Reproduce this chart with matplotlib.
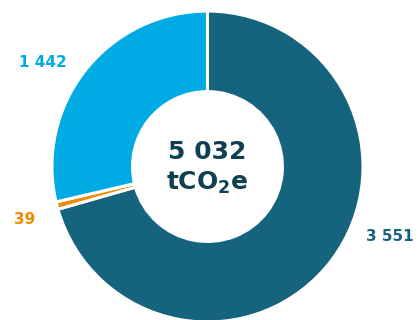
import matplotlib.pyplot as plt

plt.rcParams["mathtext.fontset"] = "dejavusans"

# emissions split, tCO2e (clockwise from 12 o'clock)
values = [3551, 39, 1442]
labels = ["3 551", "39", "1 442"]
colors = ["#16637d", "#f08a00", "#00abe3"]
total_label = ["5 032", r"tCO$_{\mathbf{2}}$e"]

fig = plt.figure(figsize=(4.19, 3.2), dpi=100)
ax = fig.add_axes([0, 0, 1, 1])
ax.pie(values, colors=colors, startangle=90, counterclock=False,
       radius=1.0, wedgeprops=dict(width=0.518, edgecolor="white", linewidth=2.2))

# hand placed value labels
label_pos = [(1.174, -0.447), (-1.174, -0.338), (-1.058, 0.666)]
for (x, y), txt, c in zip(label_pos, labels, colors):
    ax.text(x, y, txt, color=c, fontsize=11, fontweight="bold",
            ha="center", va="center")

ax.text(0, 0.093, total_label[0], color="#0e3f52", fontsize=18,
        fontweight="bold", ha="center", va="center")
ax.text(0, -0.106, total_label[1], color="#0e3f52", fontsize=18,
        fontweight="bold", ha="center", va="center")

ax.set_xlim(-1.334, 1.360)
ax.set_ylim(-0.987, 1.071)
ax.set_aspect("auto")
ax.axis("off")
fig.savefig("out.png", dpi=100)
